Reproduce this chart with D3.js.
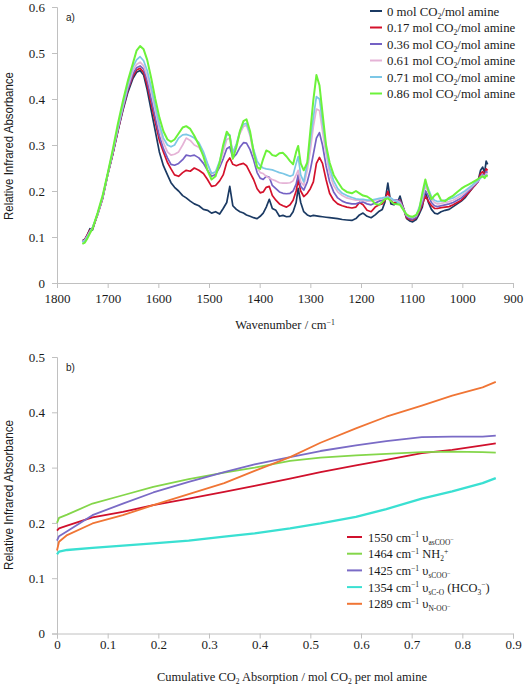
<!DOCTYPE html>
<html><head><meta charset="utf-8">
<script src="https://cdn.jsdelivr.net/npm/d3@7"></script>
<style>body{margin:0;background:#fff} svg{display:block}
.serif{font-family:"Liberation Serif","Times New Roman",Times,Tinos,"Nimbus Roman","DejaVu Serif","Noto Serif",serif}
.sans{font-family:"Liberation Sans Narrow","Arial Narrow","Liberation Sans",Arial,sans-serif}
.sans2{font-family:"Liberation Sans",Arial,sans-serif}
</style>
</head><body>
<svg id="c" width="524" height="687"></svg>
<script>
// ---------- Panel a) spectra ----------
const wavenumbers = [1750,1745,1740,1735,1730,1720,1710,1700,1690,1680,1670,1660,1650,
 1643,1636,1629,1622,1614,1606,1598,1590,1582,1575,
 1568,1560,1552,1545,1537,1529,1520,1511,1503,1495,
 1487,1479,1472,1465,1459,1453,1446,1439,1432,1426,
 1419,1412,1405,1399,1393,1387,1381,1375,1368,1361,
 1354,1347,1340,1334,1328,1324,1319,1313,1306,1300,
 1294,1288,1282,1276,1269,1262,1254,1246,1237,1228,
 1218,1210,1203,1196,1188,1180,1172,1164,1158,1153,
 1147,1141,1135,1128,1123,1117,1110,1104,1098,1091,
 1085,1079,1073,1067,1061,1055,1049,1042,1034,1026,
 1018,1010,1002,995,988,981,975,969,964,960,
 956,953,950];

const abs000 = [0.092,0.095,0.105,0.118,0.115,0.150,0.185,0.235,0.280,0.330,0.375,0.415,0.445,
 0.458,0.462,0.452,0.420,0.375,0.330,0.285,0.255,0.235,0.218,
 0.208,0.200,0.190,0.185,0.178,0.172,0.168,0.160,0.158,0.152,
 0.155,0.150,0.162,0.175,0.210,0.168,0.160,0.155,0.152,0.148,
 0.145,0.142,0.140,0.145,0.152,0.165,0.182,0.162,0.158,0.145,
 0.147,0.144,0.145,0.155,0.175,0.206,0.175,0.155,0.148,0.145,
 0.147,0.146,0.145,0.144,0.143,0.142,0.141,0.140,0.138,0.137,
 0.136,0.140,0.148,0.152,0.145,0.142,0.148,0.156,0.160,0.175,
 0.217,0.172,0.170,0.175,0.189,0.165,0.140,0.135,0.133,0.138,
 0.150,0.165,0.200,0.175,0.160,0.152,0.150,0.155,0.158,0.160,
 0.166,0.172,0.178,0.185,0.195,0.205,0.215,0.222,0.245,0.252,
 0.240,0.265,0.258];

const abs017 = [0.090,0.095,0.105,0.115,0.118,0.148,0.183,0.235,0.280,0.330,0.378,0.420,0.450,
 0.463,0.467,0.458,0.430,0.390,0.350,0.310,0.285,0.262,0.248,
 0.235,0.232,0.240,0.245,0.243,0.250,0.245,0.238,0.225,0.210,
 0.212,0.222,0.235,0.262,0.272,0.258,0.255,0.258,0.260,0.255,
 0.240,0.225,0.205,0.196,0.198,0.208,0.210,0.190,0.180,0.172,
 0.168,0.165,0.170,0.180,0.200,0.224,0.200,0.188,0.195,0.205,
 0.220,0.260,0.273,0.260,0.225,0.195,0.180,0.172,0.168,0.165,
 0.163,0.165,0.175,0.170,0.158,0.155,0.165,0.170,0.172,0.180,
 0.199,0.178,0.174,0.178,0.180,0.165,0.142,0.138,0.137,0.142,
 0.155,0.170,0.189,0.178,0.168,0.162,0.162,0.164,0.165,0.166,
 0.170,0.175,0.180,0.188,0.196,0.205,0.212,0.220,0.238,0.242,
 0.235,0.248,0.245];

const abs036 = [0.090,0.093,0.103,0.112,0.120,0.148,0.185,0.235,0.282,0.332,0.380,0.422,0.455,
 0.468,0.472,0.465,0.440,0.400,0.360,0.320,0.292,0.272,0.258,
 0.256,0.260,0.268,0.278,0.276,0.278,0.272,0.260,0.245,0.232,
 0.236,0.252,0.270,0.292,0.296,0.272,0.280,0.295,0.305,0.304,
 0.290,0.268,0.240,0.228,0.225,0.232,0.230,0.212,0.205,0.198,
 0.195,0.194,0.195,0.200,0.215,0.235,0.210,0.202,0.220,0.246,
 0.280,0.315,0.327,0.300,0.255,0.220,0.198,0.185,0.178,0.174,
 0.172,0.172,0.175,0.176,0.172,0.170,0.174,0.178,0.180,0.183,
 0.185,0.182,0.180,0.180,0.178,0.165,0.145,0.140,0.139,0.143,
 0.158,0.175,0.200,0.190,0.175,0.168,0.166,0.168,0.170,0.172,
 0.175,0.180,0.185,0.192,0.200,0.207,0.214,0.220,0.232,0.236,
 0.232,0.242,0.240];

const abs061 = [0.090,0.093,0.102,0.112,0.120,0.149,0.186,0.236,0.284,0.335,0.383,0.428,0.462,
 0.475,0.480,0.472,0.450,0.415,0.375,0.335,0.305,0.285,0.278,
 0.280,0.285,0.300,0.315,0.310,0.300,0.295,0.280,0.258,0.238,
 0.240,0.258,0.285,0.312,0.315,0.285,0.300,0.325,0.340,0.343,
 0.320,0.280,0.252,0.240,0.238,0.232,0.228,0.225,0.222,0.218,
 0.217,0.217,0.218,0.222,0.235,0.245,0.220,0.212,0.245,0.289,
 0.340,0.378,0.375,0.330,0.280,0.238,0.212,0.198,0.190,0.185,
 0.182,0.180,0.180,0.180,0.178,0.178,0.180,0.182,0.183,0.185,
 0.186,0.183,0.180,0.178,0.175,0.162,0.147,0.143,0.142,0.146,
 0.162,0.182,0.210,0.198,0.182,0.175,0.172,0.173,0.175,0.177,
 0.180,0.185,0.190,0.196,0.203,0.210,0.216,0.222,0.230,0.234,
 0.230,0.238,0.236];

const abs071 = [0.089,0.092,0.101,0.111,0.120,0.150,0.187,0.237,0.286,0.338,0.387,0.433,0.470,
 0.485,0.492,0.483,0.462,0.425,0.385,0.345,0.315,0.300,0.296,
 0.300,0.315,0.322,0.323,0.320,0.315,0.305,0.285,0.260,0.238,
 0.242,0.265,0.295,0.322,0.322,0.282,0.302,0.330,0.345,0.347,
 0.325,0.290,0.265,0.255,0.250,0.248,0.247,0.246,0.243,0.240,
 0.238,0.235,0.232,0.235,0.260,0.275,0.235,0.220,0.260,0.310,
 0.360,0.405,0.400,0.350,0.295,0.250,0.222,0.205,0.195,0.190,
 0.186,0.183,0.182,0.182,0.180,0.180,0.182,0.184,0.185,0.186,
 0.187,0.185,0.180,0.176,0.172,0.160,0.148,0.144,0.143,0.147,
 0.165,0.188,0.218,0.205,0.188,0.180,0.177,0.178,0.180,0.182,
 0.185,0.190,0.195,0.200,0.206,0.212,0.218,0.223,0.228,0.232,
 0.230,0.235,0.233];

const abs086 = [0.085,0.088,0.097,0.108,0.118,0.152,0.190,0.238,0.290,0.345,0.395,0.440,0.478,
 0.505,0.515,0.508,0.485,0.445,0.400,0.360,0.330,0.312,0.307,
 0.312,0.325,0.338,0.341,0.335,0.320,0.300,0.275,0.245,0.225,
 0.232,0.262,0.300,0.329,0.320,0.270,0.295,0.330,0.352,0.356,
 0.330,0.285,0.252,0.248,0.270,0.288,0.285,0.278,0.276,0.282,
 0.283,0.275,0.265,0.258,0.285,0.298,0.260,0.245,0.262,0.330,
 0.398,0.452,0.430,0.370,0.300,0.262,0.235,0.220,0.205,0.198,
 0.195,0.200,0.195,0.190,0.188,0.182,0.172,0.170,0.176,0.182,
 0.184,0.178,0.172,0.171,0.170,0.160,0.149,0.145,0.144,0.148,
 0.160,0.195,0.225,0.200,0.182,0.190,0.195,0.180,0.178,0.185,
 0.190,0.198,0.205,0.210,0.214,0.218,0.222,0.226,0.230,0.232,
 0.228,0.233,0.232];

const loadings = ["0","0.17","0.36","0.61","0.71","0.86"];
const spectraColors = ["#1b3a63","#d4112b","#7461c4","#e5b3d6","#7cc7e6","#6cf23a"];
const spectraTicksX = [1800,1700,1600,1500,1400,1300,1200,1100,1000,900];
const spectraTicksY = [0,0.1,0.2,0.3,0.4,0.5,0.6];

// ---------- Panel b) band intensities ----------
const co2Loading = [0,0.004,0.02,0.07,0.13,0.19,0.26,0.33,0.39,0.46,0.52,0.59,0.65,0.72,0.78,0.84,0.866];
const band1550 = [0.186,0.190,0.195,0.210,0.220,0.232,0.244,0.256,0.267,0.280,0.292,0.304,0.314,0.326,0.332,0.340,0.344];
const band1464 = [0.200,0.209,0.215,0.235,0.250,0.265,0.279,0.291,0.300,0.312,0.318,0.322,0.325,0.328,0.329,0.328,0.327];
const band1425 = [0.168,0.176,0.185,0.214,0.235,0.255,0.274,0.292,0.306,0.319,0.330,0.340,0.348,0.355,0.356,0.356,0.358];
const band1354 = [0.143,0.148,0.151,0.155,0.159,0.163,0.168,0.175,0.181,0.190,0.199,0.211,0.225,0.244,0.257,0.272,0.281];
const band1289 = [0.150,0.166,0.178,0.199,0.214,0.232,0.252,0.272,0.294,0.319,0.345,0.371,0.392,0.412,0.430,0.445,0.455];
const bandColors = ["#d0102c","#84d64a","#7a6bc6","#3ae0d2","#f07535"];
const bandTicksX = [0,0.1,0.2,0.3,0.4,0.5,0.6,0.7,0.8,0.9];
const bandTicksY = [0,0.1,0.2,0.3,0.4,0.5];

const svg = d3.select("#c");
const AX = "#c0c0c0";

function fmt(d){ return d === 0 ? "0" : (Number.isInteger(d) ? String(d) : d3.format(".1f")(d)); }

// rich text: parts [text, level] level: 0 normal, 1 sub, 2 sup, 3 sup-in-sub
function richText(g, x, y, parts, size, anchor) {
  const t = g.append("text").attr("class", "serif").attr("x", x).attr("y", y)
    .style("font-size", size + "px").attr("fill", "#1a1a1a");
  if (anchor) t.attr("text-anchor", anchor);
  const off = [0, size*0.25, -size*0.35, size*0.05];
  const fs = [size, size*0.6, size*0.62, size*0.5];
  let cur = 0;
  parts.forEach(([s, lv]) => {
    t.append("tspan").attr("dy", off[lv] - cur).style("font-size", fs[lv] + "px").text(s);
    cur = off[lv];
  });
  return t;
}

function drawAxes(g, x, y, ticksX, ticksY, xLabOff) {
  const xa = d3.axisBottom(x).tickValues(ticksX).tickSize(5).tickPadding(xLabOff).tickFormat(fmt);
  const ya = d3.axisLeft(y).tickValues(ticksY).tickSize(5).tickPadding(7).tickFormat(fmt);
  const gx = g.append("g").attr("transform", `translate(0,${y(0)})`).call(xa);
  const gy = g.append("g").attr("transform", `translate(${x.range()[0]},0)`).call(ya);
  [gx, gy].forEach(a => {
    a.attr("font-family", null).attr("font-size", null);
    a.select(".domain").attr("stroke", AX);
    a.selectAll(".tick line").attr("stroke", AX);
    a.selectAll(".tick text").attr("class", "serif").style("font-size", "13px").attr("fill", "#1a1a1a");
  });
}

// ===== Panel a =====
{
  const g = svg.append("g");
  const x = d3.scaleLinear().domain([1800, 900]).range([57, 513]);
  const y = d3.scaleLinear().domain([0, 0.6]).range([283, 7]);
  drawAxes(g, x, y, spectraTicksX, spectraTicksY, 6);
  const series = [abs000, abs017, abs036, abs061, abs071, abs086];
  const line = d3.line().x((d,i) => x(wavenumbers[i])).y(d => y(d));
  series.forEach((s, k) => {
    g.append("path").datum(s).attr("d", line).attr("fill", "none")
      .attr("stroke", spectraColors[k]).attr("stroke-width", k === 5 ? 2 : 1.7)
      .attr("stroke-linejoin", "round");
  });
  g.append("text").attr("class", "sans2").attr("x", 66).attr("y", 21).style("font-size", "10px").attr("fill","#1a1a1a").text("a)");
  const lg = g.append("g");
  loadings.forEach((L, k) => {
    const yy = 11 + k * 16.5;
    lg.append("line").attr("x1", 370).attr("x2", 382).attr("y1", yy).attr("y2", yy)
      .attr("stroke", spectraColors[k]).attr("stroke-width", 2);
    richText(lg, 387, yy + 4.5, [[L + " mol CO", 0], ["2", 1], ["/mol amine", 0]], 12.8);
  });
  richText(g, 285, 329, [["Wavenumber / cm", 0], ["\u22121", 2]], 12.5, "middle");
  g.append("text").attr("class", "sans").attr("transform", "translate(13,146) rotate(-90)")
    .attr("text-anchor", "middle").style("font-size", "12px")
    .attr("textLength", 148).attr("lengthAdjust", "spacingAndGlyphs")
    .attr("fill", "#1a1a1a").text("Relative Infrared Absorbance");
}

// ===== Panel b =====
{
  const g = svg.append("g");
  const x = d3.scaleLinear().domain([0, 0.9]).range([57, 513]);
  const y = d3.scaleLinear().domain([0, 0.5]).range([633.5, 357]);
  drawAxes(g, x, y, bandTicksX, bandTicksY, 1);
  const series = [band1550, band1464, band1425, band1354, band1289];
  const line = d3.line().x((d,i) => x(co2Loading[i])).y(d => y(d));
  const order = [3, 0, 1, 2, 4];
  order.forEach(k => {
    g.append("path").datum(series[k]).attr("d", line).attr("fill", "none")
      .attr("stroke", bandColors[k]).attr("stroke-width", k === 3 ? 2.3 : 1.8)
      .attr("stroke-linejoin", "round");
  });
  g.append("text").attr("class", "sans2").attr("x", 66).attr("y", 371).style("font-size", "10px").attr("fill","#1a1a1a").text("b)");
  const legendParts = [
    [["1550 cm", 0], ["\u22121", 2], [" \u03C5", 0], ["asCOO", 1], ["\u2212", 3]],
    [["1464 cm", 0], ["\u22121", 2], [" NH", 0], ["2", 1], ["+", 2]],
    [["1425 cm", 0], ["\u22121", 2], [" \u03C5", 0], ["sCOO", 1], ["\u2212", 3]],
    [["1354 cm", 0], ["\u22121", 2], [" \u03C5", 0], ["sC-O", 1], [" (HCO", 0], ["3", 1], ["\u2212", 2], [")", 0]],
    [["1289 cm", 0], ["\u22121", 2], [" \u03C5", 0], ["N-OO", 1], ["\u2212", 3]]
  ];
  const lg = g.append("g");
  legendParts.forEach((p, k) => {
    const yy = 537 + k * 16.7;
    lg.append("line").attr("x1", 347).attr("x2", 362).attr("y1", yy).attr("y2", yy)
      .attr("stroke", bandColors[k]).attr("stroke-width", 2);
    richText(lg, 368, yy + 4.5, p, 12.4);
  });
  richText(g, 292, 681, [["Cumulative CO", 0], ["2", 1], [" Absorption / mol CO", 0], ["2", 1], [" per mol amine", 0]], 12.5, "middle");
  g.append("text").attr("class", "sans").attr("transform", "translate(13,495) rotate(-90)")
    .attr("text-anchor", "middle").style("font-size", "12px")
    .attr("textLength", 150).attr("lengthAdjust", "spacingAndGlyphs")
    .attr("fill", "#1a1a1a").text("Relative Infrared Absorbance");
}
</script>
</body></html>
